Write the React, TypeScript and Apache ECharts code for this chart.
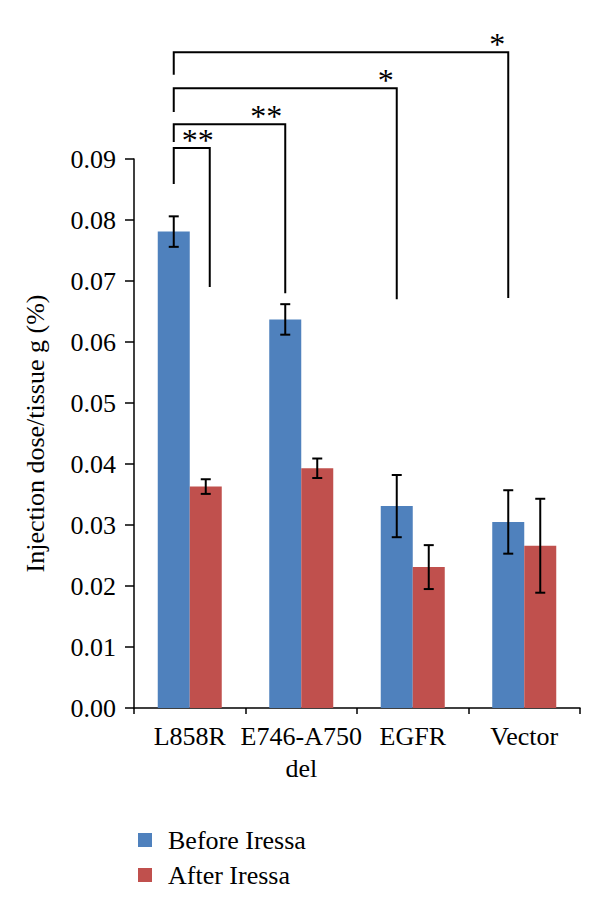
import React, { useEffect, useRef } from "react";
import * as echarts from "echarts";

const categories = ["L858R", "E746-A750\ndel", "EGFR", "Vector"];
const beforeValues = [0.0781, 0.0637, 0.0331, 0.0305];
const beforeErrors = [0.0025, 0.0025, 0.0051, 0.0052];
const afterValues = [0.0363, 0.0393, 0.0231, 0.0266];
const afterErrors = [0.0012, 0.0016, 0.0036, 0.0077];
const yTicks = { min: 0, max: 0.09, interval: 0.01 };

// significance brackets: from L858R (before) to target category / side
const bracketTarget = [0, 1, 2, 3];
const bracketSide = [1.25, -1, -1, -1]; // +1 = after bar centre, -1 = before bar centre
const bracketTop = [0.0918, 0.0957, 0.1016, 0.1075];
const bracketLeftEnd = [0.0859, 0.0928, 0.0977, 0.1038];
const bracketRightEnd = [0.069, 0.068, 0.067, 0.0672];
const bracketLabels = ["**", "**", "*", "*"];

const FONT = "'Liberation Serif', 'Times New Roman', serif";
const BLUE = "#4F81BD";
const RED = "#C0504D";
const CAT_GAP = 0.426;

function errorRenderer(side: number) {
  return (params: any, api: any) => {
    const cat = api.value(0);
    const lo = api.value(1);
    const hi = api.value(2);
    const band = api.size([1, 0])[0];
    const bw = (band * (1 - CAT_GAP)) / 2;
    const c = api.coord([cat, lo]);
    const x = c[0] + side * bw / 2;
    const yLo = c[1];
    const yHi = api.coord([cat, hi])[1];
    const cap = 5;
    const style = { stroke: "#000", lineWidth: 2 };
    return {
      type: "group",
      children: [
        { type: "line", shape: { x1: x, y1: yLo, x2: x, y2: yHi }, style },
        { type: "line", shape: { x1: x - cap, y1: yLo, x2: x + cap, y2: yLo }, style },
        { type: "line", shape: { x1: x - cap, y1: yHi, x2: x + cap, y2: yHi }, style },
      ],
    };
  };
}

function bracketRenderer(params: any, api: any) {
  const i = params.dataIndex;
  const band = api.size([1, 0])[0];
  const bw = (band * (1 - CAT_GAP)) / 2;
  const x0 = api.coord([0, 0])[0] - bw / 2;
  const x1 = api.coord([bracketTarget[i], 0])[0] + bracketSide[i] * bw / 2;
  const yTop = api.coord([0, bracketTop[i]])[1];
  const yL = api.coord([0, bracketLeftEnd[i]])[1];
  const yR = api.coord([0, bracketRightEnd[i]])[1];
  const style = { stroke: "#000", lineWidth: 2, fill: null };
  return {
    type: "group",
    children: [
      {
        type: "polyline",
        shape: { points: [[x0, yL], [x0, yTop], [x1, yTop], [x1, yR]] },
        style,
      },
      {
        type: "text",
        x: x1 + (i === 0 ? 4 : -3),
        y: yTop - 8,
        style: {
          text: bracketLabels[i],
          font: `32px ${FONT}`,
          fill: "#000",
          align: "right",
          verticalAlign: "middle",
        },
      },
    ],
  };
}

export default function App() {
  const ref = useRef<HTMLDivElement>(null);
  useEffect(() => {
    if (!ref.current) return;
    const chart = echarts.init(ref.current, undefined, { renderer: "svg" });
    chart.setOption({
      animation: false,
      backgroundColor: "#fff",
      textStyle: { fontFamily: FONT },
      grid: { left: 134, right: 20, top: 159, bottom: 200, containLabel: false },
      legend: {
        data: ["Before Iressa", "After Iressa"],
        orient: "vertical",
        left: 133,
        top: 822,
        itemWidth: 14,
        itemHeight: 14,
        itemGap: 9,
        icon: "rect",
        textStyle: {
          fontFamily: FONT,
          fontSize: 26,
          color: "#000",
          padding: [0, 0, 0, 11],
        },
      },
      xAxis: {
        type: "category",
        data: categories,
        axisLine: { lineStyle: { color: "#000", width: 1.5 } },
        axisTick: { show: true, length: 6, lineStyle: { color: "#000", width: 1.5 } },
        axisLabel: {
          color: "#000",
          fontFamily: FONT,
          fontSize: 26,
          lineHeight: 32,
          margin: 12,
          interval: 0,
        },
      },
      yAxis: {
        type: "value",
        min: yTicks.min,
        max: yTicks.max,
        interval: yTicks.interval,
        name: "Injection dose/tissue g (%)",
        nameLocation: "middle",
        nameRotate: 90,
        nameGap: 86,
        nameTextStyle: { color: "#000", fontFamily: FONT, fontSize: 26 },
        axisLine: { show: true, lineStyle: { color: "#000", width: 1.5 } },
        axisTick: { show: true, length: 9, lineStyle: { color: "#000", width: 1.5 } },
        axisLabel: {
          color: "#000",
          fontFamily: FONT,
          fontSize: 26,
          margin: 18,
          formatter: (v: number) => v.toFixed(2),
        },
        splitLine: { show: false },
      },
      series: [
        {
          name: "Before Iressa",
          type: "bar",
          data: beforeValues,
          itemStyle: { color: BLUE },
          barGap: "0%",
          barCategoryGap: CAT_GAP * 100 + "%",
        },
        {
          name: "After Iressa",
          type: "bar",
          data: afterValues,
          itemStyle: { color: RED },
          barGap: "0%",
          barCategoryGap: CAT_GAP * 100 + "%",
        },
        {
          type: "custom",
          renderItem: errorRenderer(-1),
          data: beforeValues.map((v, i) => [i, v - beforeErrors[i], v + beforeErrors[i]]),
          z: 10,
          silent: true,
        },
        {
          type: "custom",
          renderItem: errorRenderer(1),
          data: afterValues.map((v, i) => [i, v - afterErrors[i], v + afterErrors[i]]),
          z: 10,
          silent: true,
        },
        {
          type: "custom",
          renderItem: bracketRenderer,
          clip: false,
          data: bracketTop.map((v, i) => [bracketTarget[i], v]),
          z: 10,
          silent: true,
        },
      ],
    });
    return () => chart.dispose();
  }, []);
  return <div ref={ref} style={{ width: 600, height: 908, position: "absolute", left: 0, top: 0 }} />;
}
